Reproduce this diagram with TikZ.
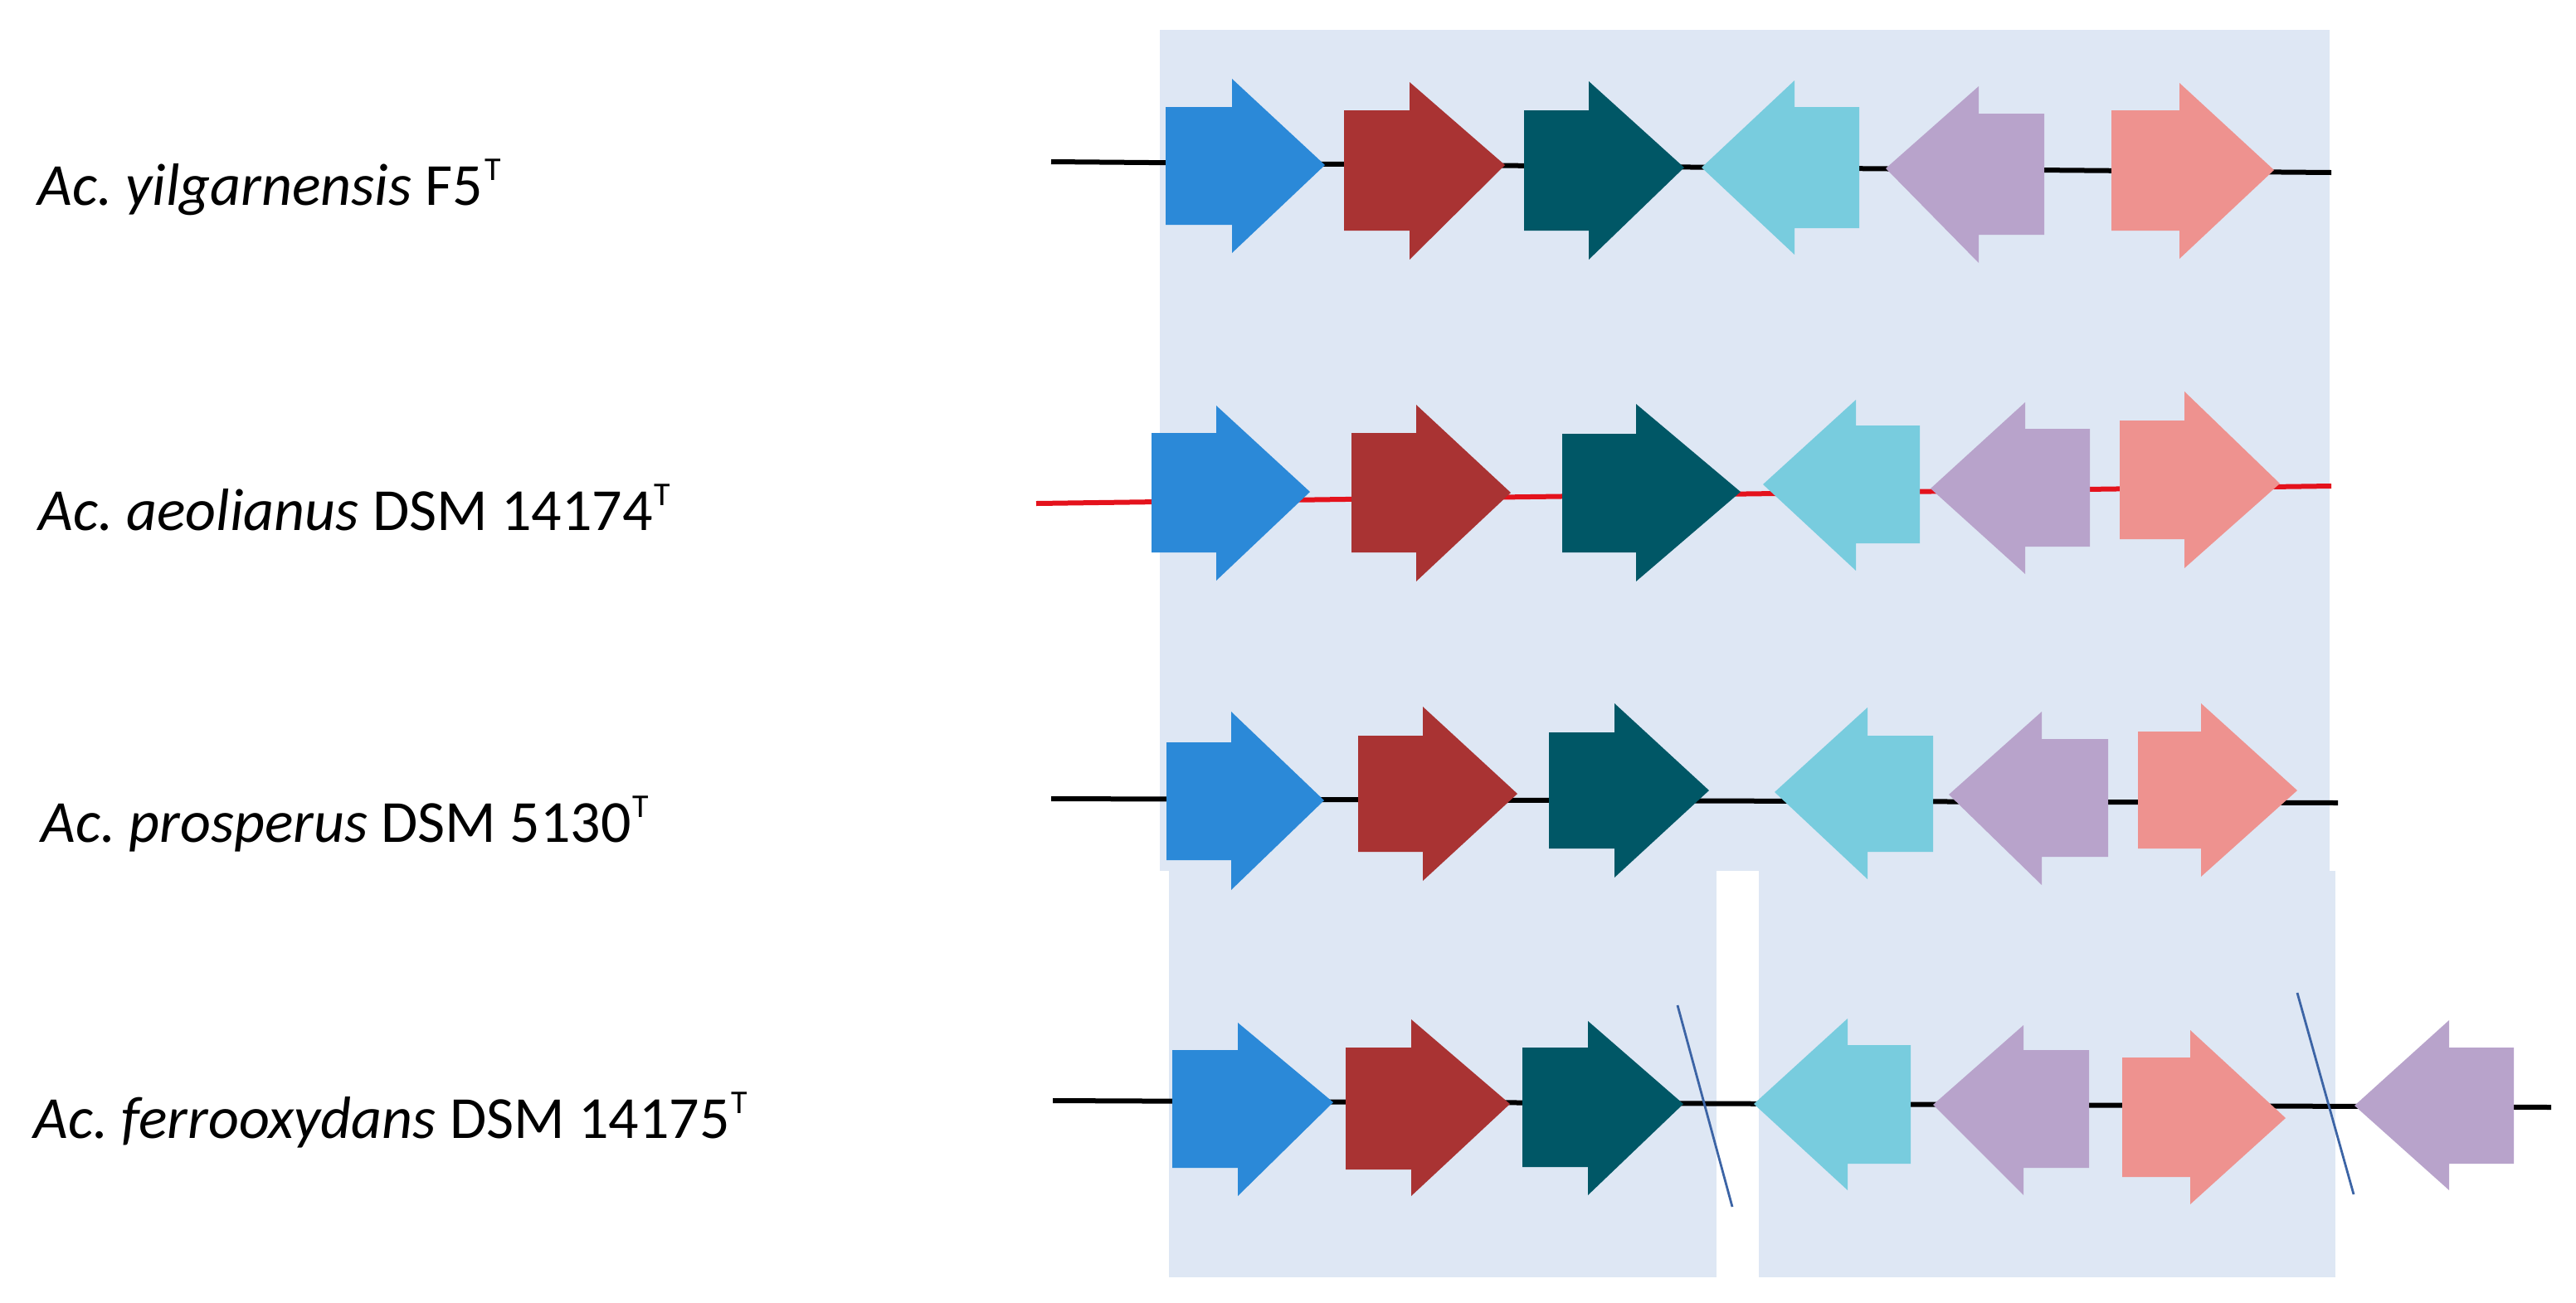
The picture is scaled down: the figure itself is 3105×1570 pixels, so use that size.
\documentclass[tikz,border=0pt]{standalone}
\usepackage{fontspec}
\setmainfont{Carlito}
\definecolor{bgblue}{RGB}{222,231,244}
\definecolor{gBlueC}{RGB}{43,137,216}
\definecolor{gRedC}{RGB}{169,51,51}
\definecolor{gTealC}{RGB}{0,87,102}
\definecolor{gCyanC}{RGB}{120,204,222}
\definecolor{gLavC}{RGB}{184,163,203}
\definecolor{gSalC}{RGB}{238,146,143}
\definecolor{lineRed}{RGB}{228,18,28}
\definecolor{slashC}{RGB}{60,100,165}
\newcommand\gene[9]{\fill[#1] (#2,#3) -- (#5,#3) -- (#5,#6) -- (#8,#9) -- (#5,#7) -- (#5,#4) -- (#2,#4) -- cycle;}
\newcommand\typeT{\kern1pt\raisebox{15pt}{\fontsize{20}{20}\selectfont T}}
\begin{document}
\frenchspacing
\begin{tikzpicture}[x=0.5pt,y=-0.5pt,
  lab/.style={anchor=base west, inner sep=0pt, font=\fontsize{36}{43}\selectfont},
  bgbox/.style={fill=bgblue},
  backbone/.style={line width=3pt, black},
  redbone/.style={line width=3pt, lineRed},
  breakmark/.style={line width=1.4pt, slashC},
  gblue/.style={fill=gBlueC},
  gred/.style={fill=gRedC},
  gteal/.style={fill=gTealC},
  gcyan/.style={fill=gCyanC},
  glav/.style={fill=gLavC},
  gsal/.style={fill=gSalC}]
\useasboundingbox (0,0) rectangle (3105,1570);

% background panels
\fill[bgbox] (1398,36) rectangle (2808,1050);
\fill[bgbox] (1409,1050) rectangle (2069,1540);
\fill[bgbox] (2120,1050) rectangle (2815,1540);

% labels
\node[lab] (l1) at (45,247) {\textit{Ac. yilgarnensis} F5\typeT};
\node[lab] (l2) at (46,639) {\textit{Ac. aeolianus} DSM 14174\typeT};
\node[lab] (l3) at (49,1015) {\textit{Ac. prosperus} DSM 5130\typeT};
\node[lab] (l4) at (40,1372) {\textit{Ac. ferrooxydans} DSM 14175\typeT};

% backbones
\coordinate (r1a) at (1267,195); \coordinate (r1b) at (2810,208);
\coordinate (r2a) at (1249,607); \coordinate (r2b) at (2810,586);
\coordinate (r3a) at (1267,963); \coordinate (r3b) at (2818,968);
\coordinate (r4a) at (1269,1327); \coordinate (r4b) at (3075,1335);
\draw[backbone] (r1a) -- (r1b);
\draw[redbone] (r2a) -- (r2b);
\draw[backbone] (r3a) -- (r3b);
\draw[backbone] (r4a) -- (r4b);

% row 1
\gene{gblue}{1405}{129}{271}{1485}{95}{305}{1597}{199}
\gene{gred}{1620}{133}{278}{1699}{99}{313}{1814}{199}
\gene{gteal}{1837}{133}{278}{1915}{98}{313}{2030}{202}
\gene{gcyan}{2241}{129}{275}{2163}{97}{307}{2051}{202}
\gene{glav}{2464}{137}{283}{2385}{104}{317}{2273}{203}
\gene{gsal}{2545}{133}{278}{2627}{100}{312}{2741}{205}

% row 2
\gene{gblue}{1388}{522}{666}{1466}{489}{700}{1579}{593}
\gene{gred}{1629}{522}{666}{1707}{488}{701}{1821}{594}
\gene{gteal}{1883}{523}{666}{1972}{487}{701}{2098}{593}
\gene{gcyan}{2314}{513}{655}{2237}{482}{688}{2125}{584}
\gene{glav}{2519}{517}{659}{2441}{485}{692}{2327}{589}
\gene{gsal}{2555}{507}{650}{2633}{472}{685}{2748}{583}

% row 3
\gene{gblue}{1406}{895}{1037}{1484}{858}{1073}{1596}{965}
\gene{gred}{1637}{887}{1027}{1715}{852}{1062}{1829}{957}
\gene{gteal}{1867}{883}{1023}{1946}{848}{1058}{2060}{953}
\gene{gcyan}{2330}{887}{1027}{2251}{853}{1060}{2139}{955}
\gene{glav}{2541}{891}{1033}{2461}{858}{1067}{2349}{958}
\gene{gsal}{2577}{882}{1023}{2653}{848}{1057}{2769}{953}

% row 4
\gene{gblue}{1413}{1266}{1408}{1492}{1233}{1442}{1607}{1329}
\gene{gred}{1622}{1263}{1410}{1701}{1229}{1442}{1820}{1331}
\gene{gteal}{1835}{1263}{1407}{1914}{1231}{1441}{2029}{1331}
\gene{gcyan}{2303}{1260}{1403}{2227}{1228}{1435}{2114}{1331}
\gene{glav}{2518}{1266}{1408}{2439}{1236}{1441}{2330}{1332}
\gene{gsal}{2558}{1275}{1419}{2640}{1242}{1452}{2755}{1348}
\gene{glav}{3030}{1263}{1403}{2952}{1230}{1435}{2838}{1333}

% break marks
\coordinate (s1a) at (2022,1212); \coordinate (s1b) at (2088,1455);
\coordinate (s2a) at (2769,1197); \coordinate (s2b) at (2837,1440);
\draw[breakmark] (s1a) -- (s1b);
\draw[breakmark] (s2a) -- (s2b);
\end{tikzpicture}
\end{document}
